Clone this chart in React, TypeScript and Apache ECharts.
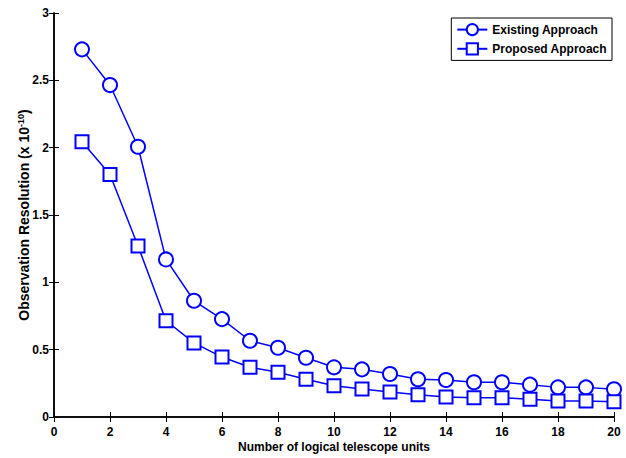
import React, { useEffect, useRef } from "react";
import * as echarts from "echarts";

const units = [1, 2, 3, 4, 5, 6, 7, 8, 9, 10, 11, 12, 13, 14, 15, 16, 17, 18, 19, 20];
const existing = [2.73, 2.465, 2.007, 1.17, 0.863, 0.727, 0.566, 0.514, 0.44, 0.369, 0.354, 0.319, 0.28, 0.275, 0.258, 0.258, 0.24, 0.22, 0.22, 0.206];
const proposed = [2.044, 1.8, 1.27, 0.715, 0.55, 0.445, 0.369, 0.332, 0.28, 0.232, 0.208, 0.186, 0.166, 0.148, 0.143, 0.143, 0.131, 0.119, 0.119, 0.114];

const FONT = "Liberation Sans, Arial, sans-serif";
const BLUE = "#0000ff";

export default function App() {
  const ref = useRef<HTMLDivElement>(null);
  useEffect(() => {
    const chart = echarts.init(ref.current!, null, { renderer: "svg" });
    const axisCommon = {
      axisLine: { show: true, lineStyle: { color: "#000", width: 1.5 } },
      axisTick: { show: true, inside: true, length: 5, lineStyle: { color: "#000", width: 1 } },
      splitLine: { show: false },
    };
    const labelStyle = { fontFamily: FONT, fontWeight: "bold", fontSize: 12, color: "#000" };
    chart.setOption({
      animation: false,
      backgroundColor: "#fff",
      grid: { left: 54, right: 12, top: 13, bottom: 41, outerBoundsMode: "none", containLabel: false },
      legend: {
        orient: "vertical",
        right: 14,
        top: 18,
        backgroundColor: "#fff",
        borderColor: "#000",
        borderWidth: 1,
        borderRadius: 0,
        padding: [5, 5, 5, 5],
        itemGap: 6,
        itemWidth: 30,
        itemHeight: 14,
        textStyle: { ...labelStyle },
        data: ["Existing Approach", "Proposed Approach"],
      },
      xAxis: [
        {
          type: "value",
          min: 0,
          max: 20,
          interval: 2,
          name: "Number of logical telescope units",
          nameLocation: "middle",
          nameGap: 24,
          nameMoveOverlap: false,
          nameTextStyle: { ...labelStyle },
          axisLabel: { ...labelStyle, margin: 9 },
          ...axisCommon,
        },
        {
          type: "value",
          position: "top",
          min: 0,
          max: 20,
          interval: 2,
          axisLabel: { show: false },
          ...axisCommon,
        },
      ],
      yAxis: [
        {
          type: "value",
          min: 0,
          max: 3,
          interval: 0.5,
          name: "Observation Resolution (x 10{sup|-10})",
          nameLocation: "middle",
          nameGap: 22,
          nameMoveOverlap: false,
          nameTextStyle: {
            fontFamily: FONT,
            fontWeight: "bold",
            fontSize: 14,
            color: "#000",
            rich: {
              sup: { fontFamily: FONT, fontWeight: "bold", fontSize: 9, color: "#000", verticalAlign: "top", padding: [0, 0, 7, 0] },
            },
          },
          axisLabel: { ...labelStyle, margin: 5 },
          ...axisCommon,
        },
        {
          type: "value",
          position: "right",
          min: 0,
          max: 3,
          interval: 0.5,
          axisLabel: { show: false },
          ...axisCommon,
        },
      ],
      series: [
        {
          name: "Existing Approach",
          type: "line",
          data: units.map((u, i) => [u, existing[i]]),
          symbol: "emptyCircle",
          symbolSize: 14,
          showAllSymbol: true,
          lineStyle: { color: BLUE, width: 1.5 },
          itemStyle: { color: BLUE, borderColor: BLUE, borderWidth: 1.5 },
        },
        {
          name: "Proposed Approach",
          type: "line",
          data: units.map((u, i) => [u, proposed[i]]),
          symbol: "emptyRect",
          symbolSize: 13,
          showAllSymbol: true,
          lineStyle: { color: BLUE, width: 1.5 },
          itemStyle: { color: BLUE, borderColor: BLUE, borderWidth: 1.5 },
        },
      ],
    });
    return () => chart.dispose();
  }, []);
  return <div ref={ref} style={{ width: 626, height: 458, position: "absolute", left: 0, top: 0 }} />;
}
